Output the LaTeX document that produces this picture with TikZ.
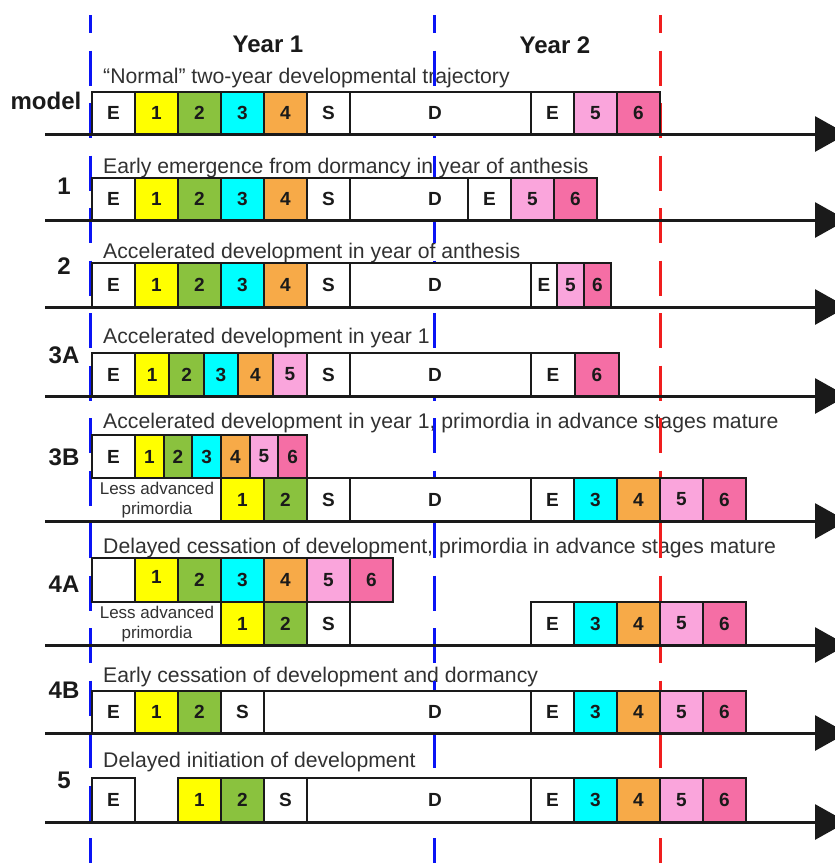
\documentclass[tikz,border=0pt]{standalone}
\usepackage{fontspec}
\setmainfont{Liberation Sans}
\usetikzlibrary{arrows.meta}
\definecolor{cyel}{HTML}{FFFF00}
\definecolor{cgrn}{HTML}{8AC23E}
\definecolor{ccya}{HTML}{00FFFF}
\definecolor{cora}{HTML}{F7AA48}
\definecolor{cpk5}{HTML}{FAA5DC}
\definecolor{cpk6}{HTML}{F56EA5}
\definecolor{cblue}{HTML}{0A14F5}
\definecolor{cred}{HTML}{F01E1E}
\definecolor{ink}{HTML}{1A1A1A}
\newcommand{\mycell}[7]{%
  \node[cellbox, fill=#6, minimum width={#3-#2}, minimum height={#5-#4}] (#1) at ({(#2+#3)/2},{(#4+#5)/2}) {#7};}
\begin{document}
\begin{tikzpicture}[x=1pt,y=-1pt,
  cellbox/.style={draw=ink, line width=2pt, inner sep=0pt, text=ink,
    font=\bfseries\fontsize{19}{19}\selectfont},
  desc/.style={anchor=base west, inner sep=0pt, text=ink!90,
    font=\fontsize{21.2}{24}\selectfont},
  rowlabel/.style={inner sep=0pt, text=ink, font=\bfseries\fontsize{24}{24}\selectfont},
  dlabel/.style={inner sep=0pt, text=ink, font=\bfseries\fontsize{19}{19}\selectfont},
  smalltext/.style={inner sep=0pt, align=center, text=ink!90,
    font=\fontsize{17}{20}\selectfont},
  axisline/.style={draw=ink, line width=3pt, -{Triangle[length=32pt,width=35pt]}},
  yearline/.style={line width=3pt, dash pattern=on 35pt off 17.5pt, dash phase=17pt}
]
\useasboundingbox (0,0) rectangle (835,863);
\clip (0,0) rectangle (835,863);

% headings
\node[rowlabel] (year1) at (268,44) {Year 1};
\node[rowlabel] (year2) at (555,45) {Year 2};

% row labels
\node[rowlabel] (lm) at (46,101) {model};
\node[rowlabel] (l1) at (64,186) {1};
\node[rowlabel] (l2) at (64,266) {2};
\node[rowlabel] (l3a) at (64,355) {3A};
\node[rowlabel] (l3b) at (64,457) {3B};
\node[rowlabel] (l4a) at (64,584) {4A};
\node[rowlabel] (l4b) at (64,690) {4B};
\node[rowlabel] (l5) at (64,780) {5};

% descriptions
\node[desc] (dm) at (103,83) {“Normal” two-year developmental trajectory};
\node[desc] (d1) at (103,173) {Early emergence from dormancy in year of anthesis};
\node[desc] (d2) at (103,258) {Accelerated development in year of anthesis};
\node[desc] (d3a) at (103,343) {Accelerated development in year 1};
\node[desc] (d3b) at (103,428) {Accelerated development in year 1, primordia in advance stages mature};
\node[desc] (d4a) at (103,553) {Delayed cessation of development, primordia in advance stages mature};
\node[desc] (d4b) at (103,682) {Early cessation of development and dormancy};
\node[desc] (d5) at (103,767) {Delayed initiation of development};

% year boundaries
\coordinate (v1t) at (90,15);  \coordinate (v1b) at (90,880);
\coordinate (v2t) at (434,15); \coordinate (v2b) at (434,880);
\coordinate (v3t) at (660,15); \coordinate (v3b) at (660,880);
\draw[yearline, cblue] (v1t) -- (v1b);
\draw[yearline, cblue] (v2t) -- (v2b);
\draw[yearline, cred] (v3t) -- (v3b);

% axes
\foreach \r/\yy in {m/134, a/220, b/307, c/396, d/521, e/645, f/733, g/822}{
  \coordinate (\r-s) at (45,\yy);
  \coordinate (\r-e) at (847,\yy);
  \draw[axisline] (\r-s) -- (\r-e);
}

% model
\mycell{m0}{92}{135}{92}{134}{white}{E}
\mycell{m1}{135}{178}{92}{134}{cyel}{1}
\mycell{m2}{178}{221}{92}{134}{cgrn}{2}
\mycell{m3}{221}{264}{92}{134}{ccya}{3}
\mycell{m4}{264}{307}{92}{134}{cora}{4}
\mycell{mS}{307}{350}{92}{134}{white}{S}
\mycell{mD}{350}{531}{92}{134}{white}{}
\mycell{mE}{531}{574}{92}{134}{white}{E}
\mycell{m5}{574}{617}{92}{134}{cpk5}{5}
\mycell{m6}{617}{660}{92}{134}{cpk6}{6}
\node[dlabel] (mDl) at (435,113) {D};

% row 1
\mycell{a0}{92}{135}{178}{220}{white}{E}
\mycell{a1}{135}{178}{178}{220}{cyel}{1}
\mycell{a2}{178}{221}{178}{220}{cgrn}{2}
\mycell{a3}{221}{264}{178}{220}{ccya}{3}
\mycell{a4}{264}{307}{178}{220}{cora}{4}
\mycell{aS}{307}{350}{178}{220}{white}{S}
\mycell{aD}{350}{468}{178}{220}{white}{}
\mycell{aE}{468}{511}{178}{220}{white}{E}
\mycell{a5}{511}{554}{178}{220}{cpk5}{5}
\mycell{a6}{554}{597}{178}{220}{cpk6}{6}
\node[dlabel] (aDl) at (435,199) {D};

% row 2
\mycell{b0}{92}{135}{263}{307}{white}{E}
\mycell{b1}{135}{178}{263}{307}{cyel}{1}
\mycell{b2}{178}{221}{263}{307}{cgrn}{2}
\mycell{b3}{221}{264}{263}{307}{ccya}{3}
\mycell{b4}{264}{307}{263}{307}{cora}{4}
\mycell{bS}{307}{350}{263}{307}{white}{S}
\mycell{bD}{350}{531}{263}{307}{white}{}
\mycell{bE}{531}{557}{263}{307}{white}{E}
\mycell{b5}{557}{584}{263}{307}{cpk5}{5}
\mycell{b6}{584}{611}{263}{307}{cpk6}{6}
\node[dlabel] (bDl) at (435,285) {D};

% row 3A
\mycell{c0}{92}{135}{353}{396}{white}{E}
\mycell{c1}{135}{169.4}{353}{396}{cyel}{1}
\mycell{c2}{169.4}{203.8}{353}{396}{cgrn}{2}
\mycell{c3}{203.8}{238.2}{353}{396}{ccya}{3}
\mycell{c4}{238.2}{272.6}{353}{396}{cora}{4}
\mycell{c5}{272.6}{307}{353}{396}{cpk5}{5}
\mycell{cS}{307}{350}{353}{396}{white}{S}
\mycell{cD}{350}{531}{353}{396}{white}{}
\mycell{cE}{531}{575}{353}{396}{white}{E}
\mycell{c6}{575}{619}{353}{396}{cpk6}{6}
\node[dlabel] (cDl) at (435,374.5) {D};

% row 3B upper
\mycell{d0}{92}{135}{435}{478}{white}{E}
\mycell{d1}{135}{163.67}{435}{478}{cyel}{1}
\mycell{d2}{163.67}{192.33}{435}{478}{cgrn}{2}
\mycell{d3}{192.33}{221}{435}{478}{ccya}{3}
\mycell{d4}{221}{249.67}{435}{478}{cora}{4}
\mycell{d5}{249.67}{278.33}{435}{478}{cpk5}{5}
\mycell{d6}{278.33}{307}{435}{478}{cpk6}{6}
% row 3B lower
\node[smalltext] (dlap) at (157,500) {Less advanced\\primordia};
\mycell{dl1}{221}{264}{478}{521}{cyel}{1}
\mycell{dl2}{264}{307}{478}{521}{cgrn}{2}
\mycell{dlS}{307}{350}{478}{521}{white}{S}
\mycell{dlD}{350}{531}{478}{521}{white}{}
\mycell{dlE}{531}{574}{478}{521}{white}{E}
\mycell{dl3}{574}{617}{478}{521}{ccya}{3}
\mycell{dl4}{617}{660}{478}{521}{cora}{4}
\mycell{dl5}{660}{703}{478}{521}{cpk5}{5}
\mycell{dl6}{703}{746}{478}{521}{cpk6}{6}
\node[dlabel] (dDl) at (435,499.5) {D};

% row 4A upper
\mycell{e0}{92}{135}{558}{602}{white}{}
\mycell{e1}{135}{178}{558}{602}{cyel}{\raisebox{7pt}{1}}
\mycell{e2}{178}{221}{558}{602}{cgrn}{2}
\mycell{e3}{221}{264}{558}{602}{ccya}{3}
\mycell{e4}{264}{307}{558}{602}{cora}{4}
\mycell{e5}{307}{350}{558}{602}{cpk5}{5}
\mycell{e6}{350}{393}{558}{602}{cpk6}{6}
% row 4A lower
\node[smalltext] (elap) at (157,624) {Less advanced\\primordia};
\mycell{el1}{221}{264}{602}{645}{cyel}{1}
\mycell{el2}{264}{307}{602}{645}{cgrn}{2}
\mycell{elS}{307}{350}{602}{645}{white}{S}
\mycell{elE}{531}{574}{602}{645}{white}{E}
\mycell{el3}{574}{617}{602}{645}{ccya}{3}
\mycell{el4}{617}{660}{602}{645}{cora}{4}
\mycell{el5}{660}{703}{602}{645}{cpk5}{5}
\mycell{el6}{703}{746}{602}{645}{cpk6}{6}

% row 4B
\mycell{f0}{92}{135}{691}{733}{white}{E}
\mycell{f1}{135}{178}{691}{733}{cyel}{1}
\mycell{f2}{178}{221}{691}{733}{cgrn}{2}
\mycell{fS}{221}{264}{691}{733}{white}{S}
\mycell{fD}{264}{531}{691}{733}{white}{}
\mycell{fE}{531}{574}{691}{733}{white}{E}
\mycell{f3}{574}{617}{691}{733}{ccya}{3}
\mycell{f4}{617}{660}{691}{733}{cora}{4}
\mycell{f5}{660}{703}{691}{733}{cpk5}{5}
\mycell{f6}{703}{746}{691}{733}{cpk6}{6}
\node[dlabel] (fDl) at (435,712) {D};

% row 5
\mycell{g0}{92}{135}{778}{822}{white}{E}
\mycell{g1}{178}{221}{778}{822}{cyel}{1}
\mycell{g2}{221}{264}{778}{822}{cgrn}{2}
\mycell{gS}{264}{307}{778}{822}{white}{S}
\mycell{gD}{307}{531}{778}{822}{white}{}
\mycell{gE}{531}{574}{778}{822}{white}{E}
\mycell{g3}{574}{617}{778}{822}{ccya}{3}
\mycell{g4}{617}{660}{778}{822}{cora}{4}
\mycell{g5}{660}{703}{778}{822}{cpk5}{5}
\mycell{g6}{703}{746}{778}{822}{cpk6}{6}
\node[dlabel] (gDl) at (435,800) {D};
\end{tikzpicture}
\end{document}
